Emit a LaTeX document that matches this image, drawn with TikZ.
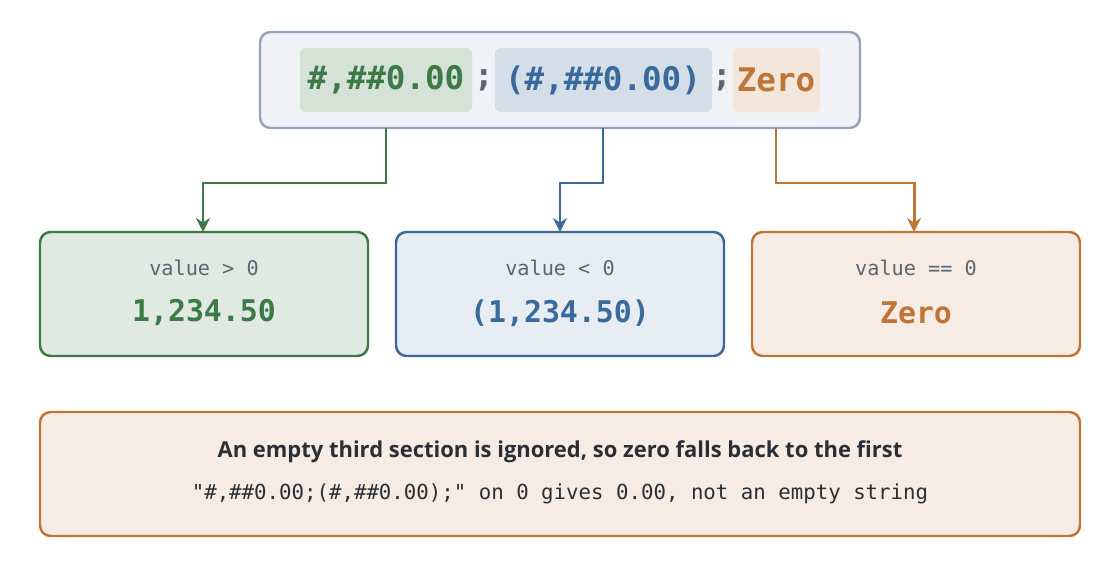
\documentclass[tikz,border=0pt]{standalone}
\usepackage{fontspec}
\setmainfont{Open Sans}
\setmonofont{DejaVu Sans Mono}
\usetikzlibrary{arrows.meta}
\definecolor{cgreen}{HTML}{3D7A47}
\definecolor{cblue}{HTML}{3A6A9B}
\definecolor{corange}{HTML}{C07538}
\definecolor{cgray}{HTML}{93A5BE}
\definecolor{ctext}{HTML}{2A2F36}
\definecolor{csub}{HTML}{5A6570}
\tikzset{
  box/.style={draw, line width=1.4pt, rounded corners=6pt},
  hl/.style={rounded corners=3pt, inner sep=0pt},
  link/.style={line width=1.7pt, -{Stealth[length=8pt,width=8pt]}},
  cond/.style={font=\ttfamily\fontsize{11.5}{13}\selectfont, text=csub},
  big/.style={font=\ttfamily\bfseries\fontsize{17}{20}\selectfont},
  top/.style={font=\ttfamily\bfseries\fontsize{18.5}{22}\selectfont}
}
\begin{document}
\begin{tikzpicture}[x=0.02cm,y=-0.02cm]
\useasboundingbox (0,0) rectangle (1120,568);
% format string
\draw [box, draw=cgray, fill=cgray!14] (260,32) rectangle (860,128);
\fill [hl, fill=cgreen!22] (300,48) rectangle (472,112);
\fill [hl, fill=cblue!22] (495,48) rectangle (712,112);
\fill [hl, fill=corange!18] (733,48) rectangle (820,112);
\node [top, text=cgreen] (pos) at (386,80) {\#,\#\#0.00};
\node [top, text=csub] (s1) at (484,80) {;};
\node [top, text=cblue] (neg) at (603,80) {(\#,\#\#0.00)};
\node [top, text=csub] (s2) at (722,80) {;};
\node [top, text=corange] (zer) at (776,80) {Zero};
% result boxes
\draw [box, draw=cgreen, fill=cgreen!16] (40,232) rectangle (368,356);
\draw [box, draw=cblue, fill=cblue!12] (396,232) rectangle (724,356);
\draw [box, draw=corange, fill=corange!14] (752,232) rectangle (1080,356);
\node [cond] (c1) at (204,268) {value > 0};
\node [big, text=cgreen] (r1) at (204,313) {1,234.50};
\node [cond] (c2) at (560,268) {value < 0};
\node [big, text=cblue] (r2) at (560,313) {(1,234.50)};
\node [cond] (c3) at (916,268) {value == 0};
\node [big, text=corange] (r3) at (916,313) {Zero};
\coordinate (t1) at (203,232);
\coordinate (t2) at (560,232);
\coordinate (t3) at (914,232);
\coordinate (f1) at (386,128);
\coordinate (f2) at (603,128);
\coordinate (f3) at (776,128);
\draw [link, cgreen] (f1) |- (295,183) -| (t1);
\draw [link, cblue] (f2) |- (580,183) -| (t2);
\draw [link, corange] (f3) |- (850,183) -| (t3);
% note
\draw [box, draw=corange, fill=corange!14] (40,412) rectangle (1080,536);
\node [font=\bfseries\fontsize{12.5}{15}\selectfont, text=ctext] (n1) at (560,452) {An empty third section is ignored, so zero falls back to the first};
\node [font=\ttfamily\fontsize{11.8}{14}\selectfont, text=ctext] (n2) at (560,494) {"\#,\#\#0.00;(\#,\#\#0.00);" on 0 gives 0.00, not an empty string};
\end{tikzpicture}
\end{document}
